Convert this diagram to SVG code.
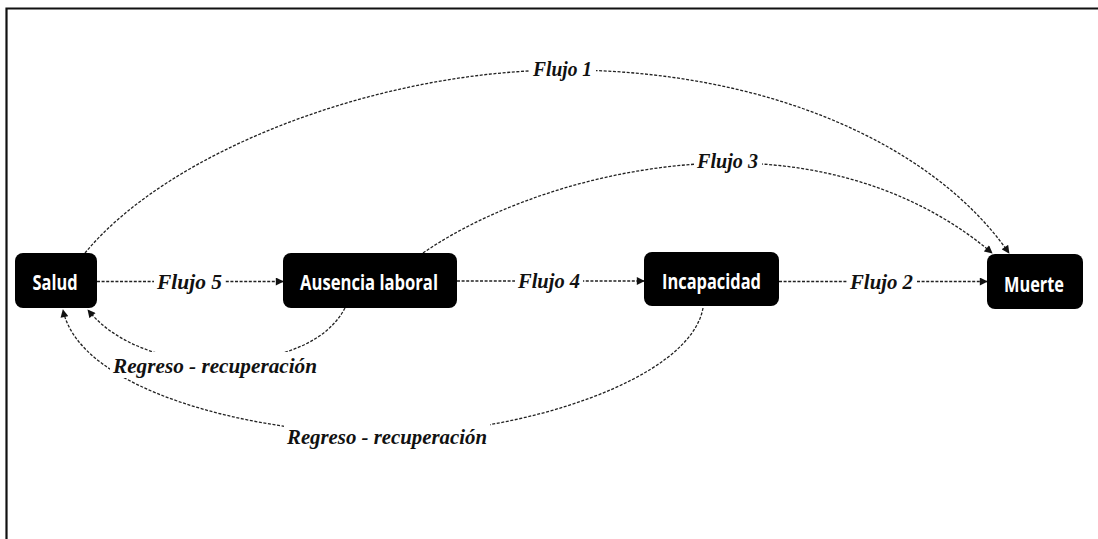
<svg xmlns="http://www.w3.org/2000/svg" width="1098" height="539" viewBox="0 0 1098 539">
<style>
.node rect{fill:#000;}
.node text{fill:#fff;font-family:"Open Sans","DejaVu Sans",sans-serif;font-weight:bold;font-size:22px;text-anchor:middle;}
.edge{fill:none;stroke:#222;stroke-width:1.3;stroke-dasharray:3 1.6;}
.lbl{font-family:"Liberation Serif","DejaVu Serif",serif;font-weight:bold;font-style:italic;font-size:22px;fill:#111;}
.bg{fill:#fff;}
</style>
<defs>
<marker id="ah" viewBox="0 0 10 10" refX="9" refY="5" markerWidth="9" markerHeight="8" markerUnits="userSpaceOnUse" orient="auto">
<path d="M0,0 L10,5 L0,10 Z" fill="#111"/>
</marker>
</defs>
<rect width="1098" height="539" fill="#fff"/>
<path d="M6.5,539 V8.5 H1098" fill="none" stroke="#111" stroke-width="2.2"/>
<g id="connectors">
<path class="edge" d="M85,253 C170,150 380,70 565,70 C760,70 930,140 1009,253" marker-end="url(#ah)"/>
<path class="edge" d="M423,253 C500,200 620,163 730,163 C840,163 930,200 992,253" marker-end="url(#ah)"/>
<path class="edge" d="M97,281.5 H283" marker-end="url(#ah)"/>
<path class="edge" d="M457,281 H644" marker-end="url(#ah)"/>
<path class="edge" d="M779,281.5 H987" marker-end="url(#ah)"/>
<path class="edge" d="M345,308 C320,355 250,362 215,362 C180,362 120,350 88,310" marker-end="url(#ah)"/>
<path class="edge" d="M703,308 C690,380 520,434 388,434 C250,434 80,390 63,310" marker-end="url(#ah)"/>
<rect class="bg" x="530" y="58" width="66" height="24"/>
<text class="lbl" x="533" y="76" textLength="59" lengthAdjust="spacingAndGlyphs">Flujo 1</text>
<rect class="bg" x="694" y="150" width="68" height="24"/>
<text class="lbl" x="697" y="168" textLength="61" lengthAdjust="spacingAndGlyphs">Flujo 3</text>
<rect class="bg" x="154" y="268" width="71" height="26"/>
<text class="lbl" x="157" y="289" textLength="65" lengthAdjust="spacingAndGlyphs">Flujo 5</text>
<rect class="bg" x="515" y="268" width="68" height="26"/>
<text class="lbl" x="518" y="288" textLength="62" lengthAdjust="spacingAndGlyphs">Flujo 4</text>
<rect class="bg" x="847" y="268" width="69" height="26"/>
<text class="lbl" x="850" y="289" textLength="63" lengthAdjust="spacingAndGlyphs">Flujo 2</text>
<rect class="bg" x="110" y="352" width="211" height="26"/>
<text class="lbl" x="113" y="373" textLength="204" lengthAdjust="spacingAndGlyphs">Regreso - recuperación</text>
<rect class="bg" x="284" y="424" width="206" height="26"/>
<text class="lbl" x="287" y="444" textLength="200" lengthAdjust="spacingAndGlyphs">Regreso - recuperación</text>
</g>
<g id="salud" class="node">
<rect x="15" y="253" width="82" height="55" rx="8"/>
<text x="55" y="290" textLength="45" lengthAdjust="spacingAndGlyphs">Salud</text>
</g>
<g id="ausencia" class="node">
<rect x="283" y="253" width="174" height="55" rx="8"/>
<text x="369" y="290" textLength="138" lengthAdjust="spacingAndGlyphs">Ausencia laboral</text>
</g>
<g id="incapacidad" class="node">
<rect x="644" y="252" width="135" height="54" rx="8"/>
<text x="711.5" y="289" textLength="99" lengthAdjust="spacingAndGlyphs">Incapacidad</text>
</g>
<g id="muerte" class="node">
<rect x="987" y="254" width="96" height="55" rx="8"/>
<text x="1034" y="292" textLength="60" lengthAdjust="spacingAndGlyphs">Muerte</text>
</g>
</svg>
